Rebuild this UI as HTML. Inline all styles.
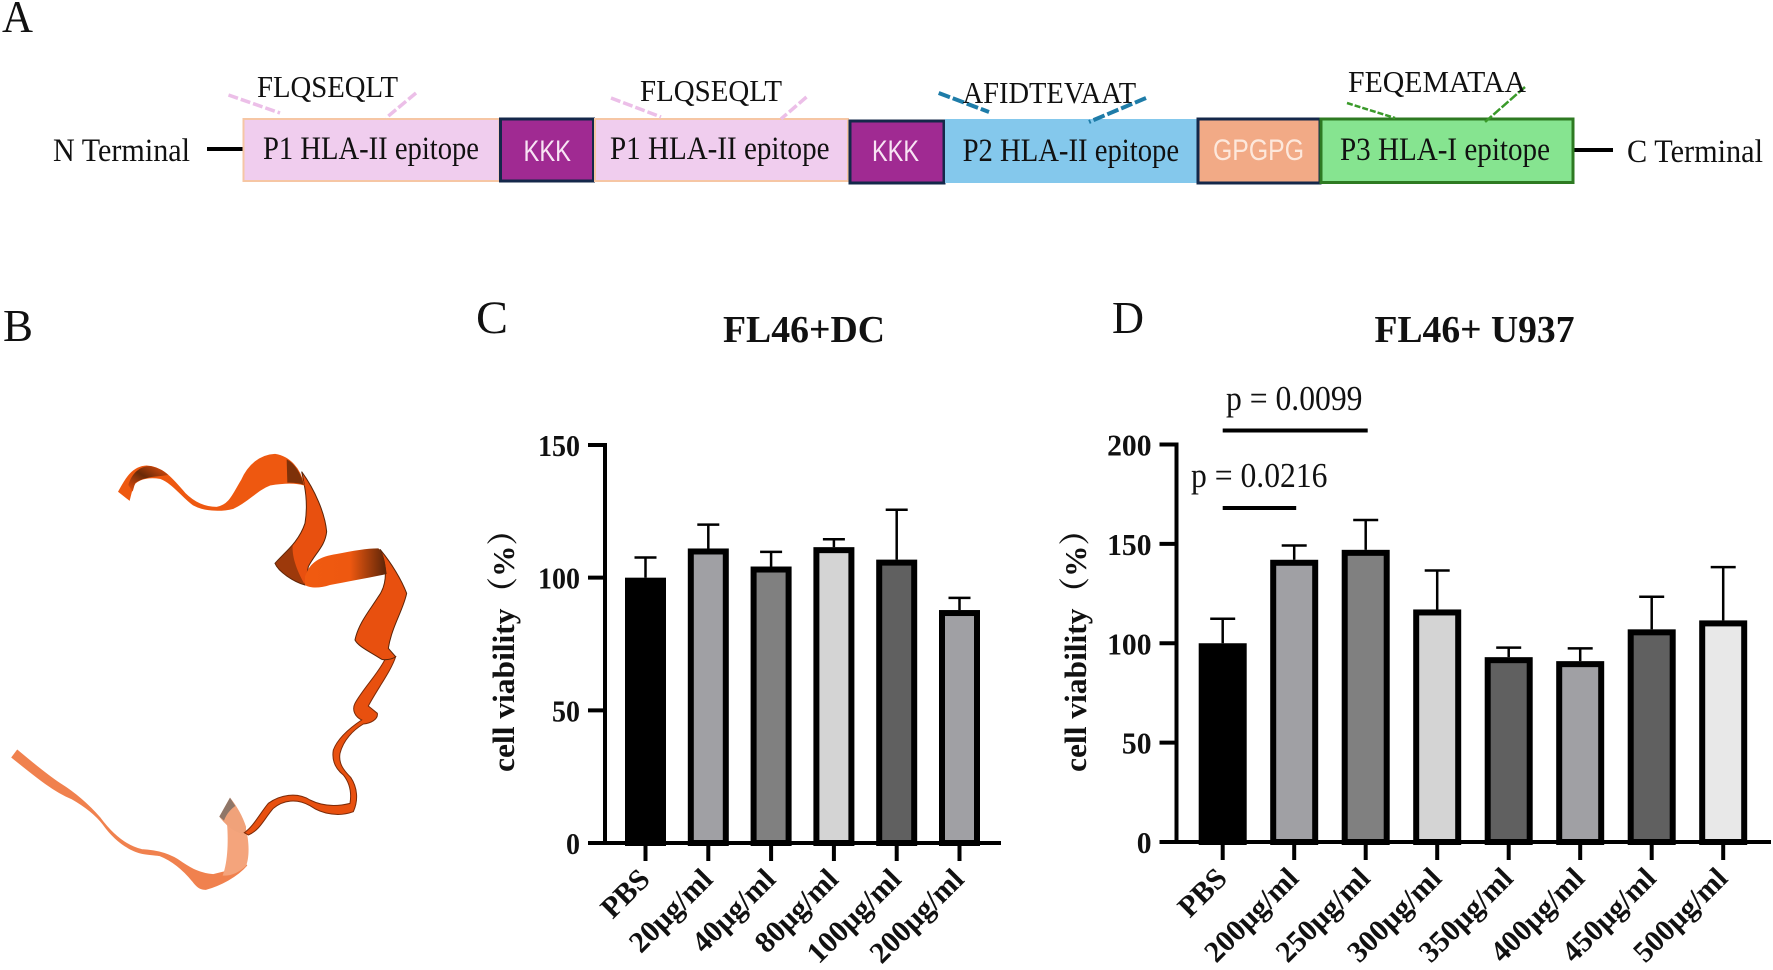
<!DOCTYPE html>
<html lang="en">
<head>
<meta charset="utf-8">
<title>FL46 epitope construct, structure and cell viability</title>
<style>
html,body{margin:0;padding:0;background:#fff;}
svg{display:block;}
text{font-family:"Liberation Serif","Noto Serif CJK SC",serif;fill:#111;}
.sans{font-family:"Liberation Sans","DejaVu Sans",sans-serif;}
</style>
</head>
<body>
<svg id="fig" xmlns="http://www.w3.org/2000/svg" width="1773" height="970" viewBox="0 0 1773 970">
  <rect x="0" y="0" width="1773" height="970" fill="#fff"/>
  <defs>
    <linearGradient id="gFold" x1="0" y1="0" x2="1" y2="0"><stop offset="0" stop-color="#f05a10"/><stop offset=".55" stop-color="#ee5810"/><stop offset="1" stop-color="#5a2408"/></linearGradient>
    <linearGradient id="gStart" x1="0" y1="1" x2="1" y2="0"><stop offset="0" stop-color="#e8500f"/><stop offset=".5" stop-color="#6a2a08"/><stop offset="1" stop-color="#e8500f"/></linearGradient>
  </defs>

  <!-- Panel letters -->
  <text x="2" y="32" font-size="46" textLength="31" lengthAdjust="spacingAndGlyphs">A</text>
  <text x="3" y="341" font-size="46" textLength="30" lengthAdjust="spacingAndGlyphs">B</text>
  <text x="476" y="333" font-size="47" textLength="32" lengthAdjust="spacingAndGlyphs">C</text>
  <text x="1112" y="333" font-size="46" textLength="32" lengthAdjust="spacingAndGlyphs">D</text>

  <!-- Panel A -->
  <g>
    <line x1="207" y1="149" x2="243" y2="149" stroke="#000" stroke-width="4"/>
    <line x1="1573" y1="150" x2="1613" y2="150" stroke="#000" stroke-width="4"/>
    <rect x="243.5" y="119" width="256" height="62" fill="#f0cdee" stroke="#f6c6a4" stroke-width="2"/>
    <rect x="500.5" y="119" width="93" height="62" fill="#a02a92" stroke="#14284a" stroke-width="3"/>
    <rect x="595" y="119" width="253" height="62" fill="#f0cdee" stroke="#f6c6a4" stroke-width="2"/>
    <rect x="850" y="121" width="94" height="62" fill="#a02a92" stroke="#14284a" stroke-width="3"/>
    <rect x="945" y="119" width="252" height="64" fill="#84c8ec"/>
    <rect x="1198" y="119" width="122" height="64" fill="#f2aa86" stroke="#14284a" stroke-width="3"/>
    <rect x="1321" y="119" width="252" height="63.5" fill="#86e490" stroke="#2e7a22" stroke-width="3"/>

    <g fill="none" stroke-linecap="butt">
      <line x1="228.5" y1="95" x2="280" y2="113" stroke="#ecbfe8" stroke-width="3.5" stroke-dasharray="10 3"/>
      <line x1="416" y1="93" x2="386" y2="118" stroke="#ecbfe8" stroke-width="3.5" stroke-dasharray="10 3"/>
      <line x1="611" y1="98" x2="661" y2="117" stroke="#ecbfe8" stroke-width="3.5" stroke-dasharray="10 3"/>
      <line x1="806.5" y1="97" x2="781" y2="119" stroke="#ecbfe8" stroke-width="3.5" stroke-dasharray="10 3"/>
      <line x1="938.7" y1="93" x2="989" y2="112" stroke="#1e7ca8" stroke-width="4" stroke-dasharray="12 3"/>
      <line x1="1146" y1="98" x2="1089" y2="122" stroke="#1e7ca8" stroke-width="4" stroke-dasharray="12 3"/>
      <line x1="1347" y1="103" x2="1395" y2="118" stroke="#3a9a2a" stroke-width="2.5" stroke-dasharray="6 2"/>
      <line x1="1525" y1="87" x2="1485" y2="122" stroke="#3a9a2a" stroke-width="2.5" stroke-dasharray="9 2"/>
    </g>

    <text x="53" y="161" font-size="33" textLength="137" lengthAdjust="spacingAndGlyphs">N Terminal</text>
    <text x="1627" y="162" font-size="33" textLength="136" lengthAdjust="spacingAndGlyphs">C Terminal</text>
    <text x="263" y="159" font-size="33" textLength="216" lengthAdjust="spacingAndGlyphs">P1 HLA-II epitope</text>
    <text class="sans" x="523.5" y="161" font-size="30" style="fill:#f8e4f4" textLength="47.5" lengthAdjust="spacingAndGlyphs">KKK</text>
    <text x="610" y="159" font-size="33" textLength="219.5" lengthAdjust="spacingAndGlyphs">P1 HLA-II epitope</text>
    <text class="sans" x="872" y="161" font-size="30" style="fill:#f8e4f4" textLength="47" lengthAdjust="spacingAndGlyphs">KKK</text>
    <text x="962.6" y="161" font-size="33" textLength="216.5" lengthAdjust="spacingAndGlyphs">P2 HLA-II epitope</text>
    <text class="sans" x="1213" y="160" font-size="30" style="fill:#fde8dc" textLength="91" lengthAdjust="spacingAndGlyphs">GPGPG</text>
    <text x="1340" y="160" font-size="33" textLength="210" lengthAdjust="spacingAndGlyphs">P3 HLA-I epitope</text>
    <text x="257" y="97" font-size="31" textLength="141" lengthAdjust="spacingAndGlyphs">FLQSEQLT</text>
    <text x="640" y="101" font-size="31" textLength="142" lengthAdjust="spacingAndGlyphs">FLQSEQLT</text>
    <text x="962.6" y="103" font-size="31" textLength="173.5" lengthAdjust="spacingAndGlyphs">AFIDTEVAAT</text>
    <text x="1348" y="92" font-size="31" textLength="178" lengthAdjust="spacingAndGlyphs">FEQEMATAA</text>
  </g>

  <!-- Panel B -->
  <g transform="translate(0,430) scale(0.33333)">
    <path fill="#f0814e" stroke="#f0814e" stroke-width="5" d="M52,962 C95,998 135,1032 180,1062 C225,1090 265,1125 300,1165 C335,1212 375,1248 425,1260 C470,1262 510,1272 545,1298 C575,1318 600,1332 640,1335 L700,1320 L740,1305 C710,1340 660,1365 618,1377 C600,1378 590,1368 578,1352 C550,1318 515,1290 480,1276 C450,1272 420,1272 395,1258 C355,1238 330,1210 310,1182 C285,1150 250,1125 215,1105 C165,1085 115,1045 37,982 Z"/>
    <path fill="#f4a47c" d="M668,1337 C684,1295 686,1225 680,1170 L733,1180 C748,1225 750,1280 738,1308 C715,1328 695,1338 668,1337 Z"/>
    <path fill="#f0a27a" d="M690,1103 L658,1160 C680,1190 710,1212 738,1212 L738,1190 C728,1160 712,1130 690,1103 Z"/>
    <path fill="#8f7668" d="M690,1103 L658,1160 L672,1172 C680,1150 695,1135 706,1128 Z"/>
    <path fill="#e8500f" stroke="#7a2a08" stroke-width="3" d="M1187,680 C1175,720 1130,780 1105,828 L1132,850 C1135,868 1112,880 1090,882 C1060,900 1030,930 1020,970 C1015,1000 1030,1020 1052,1042 C1072,1072 1076,1110 1060,1145 C1020,1160 970,1155 930,1127 C890,1105 850,1110 820,1135 C790,1170 780,1200 745,1215 L733,1208 C760,1190 780,1150 805,1120 C840,1095 890,1085 930,1110 C970,1130 1010,1130 1050,1120 C1055,1090 1050,1060 1030,1035 C1005,1015 995,990 1000,960 C1015,920 1055,890 1085,870 C1065,860 1055,840 1065,820 C1090,775 1135,730 1155,688 Z"/>
    <path fill="#e8500f" stroke="#5a2408" stroke-width="3" d="M1140,358 C1175,400 1205,450 1220,490 C1210,540 1175,590 1165,655 L1187,680 C1175,690 1150,690 1145,688 C1110,665 1075,650 1065,630 C1075,580 1110,540 1135,500 C1165,460 1160,400 1140,358 Z"/>
    <path fill="#e8500f" stroke="#5a2408" stroke-width="3" d="M905,125 C945,180 975,250 980,305 C975,350 945,370 925,410 L915,465 C880,455 835,425 825,400 C850,370 895,340 915,280 C925,220 915,170 905,125 Z"/>
    <path fill="url(#gFold)" d="M915,440 C930,395 960,380 1010,372 C1060,362 1100,355 1135,355 C1150,365 1155,395 1160,432 C1100,445 1040,455 990,465 C960,475 930,475 915,465 Z"/>
    <path fill="#ee5810" stroke="#ee5810" stroke-width="3" d="M356,185 C375,150 395,110 440,108 C490,110 520,150 555,190 C580,215 610,232 650,232 C690,225 700,190 725,150 C745,105 780,75 825,73 C870,80 900,115 912,165 C880,155 840,160 810,165 C770,180 745,215 700,235 C660,245 610,242 580,225 C545,200 520,160 480,145 C450,140 420,145 405,160 C395,175 392,195 388,210 Z"/>
    <path fill="#6a2a08" opacity=".85" d="M860,88 C885,100 905,135 912,165 C900,160 880,158 862,158 Z"/>
    <path fill="url(#gStart)" d="M385,165 C395,130 420,108 450,108 C470,112 490,120 505,135 C470,140 430,140 405,160 L398,185 Z"/>
    <path fill="#6a2a08" opacity=".6" d="M825,400 C840,380 860,362 878,345 C875,385 895,430 915,465 C880,455 835,425 825,400 Z"/>
  </g>

  <g id="chartC"></g>
  <g id="chartD"></g>
</svg>

<script>
// Panel C data
var categoriesC = ['PBS', '20μg/ml', '40μg/ml', '80μg/ml', '100μg/ml', '200μg/ml'];
var meansC = [100, 111, 104.2, 111.5, 106.8, 87.8];
var errorsC = [7.6, 9, 5.5, 3, 18.8, 4.6];
var ticksC = [0, 50, 100, 150];
var fillsC = ['#000000', '#a0a0a4', '#808080', '#d4d4d4', '#606060', '#a0a0a4'];

// Panel D data
var categoriesD = ['PBS', '200μg/ml', '250μg/ml', '300μg/ml', '350μg/ml', '400μg/ml', '450μg/ml', '500μg/ml'];
var meansD = [100, 142, 147, 117, 93, 91, 107, 111.5];
var errorsD = [12.3, 7.2, 15, 19.6, 4.8, 6.4, 16.4, 26.8];
var ticksD = [0, 50, 100, 150, 200];
var fillsD = ['#000000', '#a0a0a4', '#808080', '#d4d4d4', '#606060', '#a0a0a4', '#606060', '#e8e8e8'];

// Significance brackets: first group index, second group index, label
var sigFrom = [0, 0];
var sigTo = [2, 1];
var sigLabels = ['p = 0.0099', 'p = 0.0216'];

var NS = 'http://www.w3.org/2000/svg';

function make(parent, tag, attrs, txt) {
  var el = document.createElementNS(NS, tag);
  for (var k in attrs) { el.setAttribute(k, attrs[k]); }
  if (txt !== undefined) { el.textContent = txt; }
  parent.appendChild(el);
  return el;
}

function drawChart(group, cfg) {
  var y = function (v) { return cfg.y0 + (cfg.yTop - cfg.y0) * v / cfg.yMax; };
  var x = function (i) { return cfg.x0 + cfg.step * i; };
  var el;

  // bars and error bars
  cfg.categories.forEach(function (cat, i) {
    var top = y(cfg.means[i] + cfg.errors[i]);
    var cx = x(i);
    el = make(group, 'line', { x1: cx, x2: cx, y1: y(cfg.means[i]), y2: top, stroke: '#000', 'stroke-width': 2.5 });
    
    
    el = make(group, 'line', { x1: cx - cfg.cap / 2, x2: cx + cfg.cap / 2, y1: top, y2: top, stroke: '#000', 'stroke-width': 2.5 });
    
    
    var sw = 6;
    el = make(group, 'rect', {
      x: cx - cfg.barW / 2 + sw / 2,
      y: y(cfg.means[i]) + sw / 2,
      width: cfg.barW - sw,
      height: cfg.y0 - y(cfg.means[i]) - sw / 2,
      fill: cfg.fills[i], stroke: '#000', 'stroke-width': sw
    });
    
    
    // x tick
    el = make(group, 'line', { x1: cx, x2: cx, y1: cfg.y0, y2: cfg.y0 + 18, stroke: '#000', 'stroke-width': 4 });
    
    
    // x label
    var lx = cx + 6, ly = cfg.y0 + 38;
    el = make(group, 'text', {
      x: lx, y: ly, 'font-size': 30, 'font-weight': 'bold', 'text-anchor': 'end',
      transform: 'rotate(-45 ' + lx + ' ' + ly + ')'
    }, cat);
    
    
  });

  // y axis
  el = make(group, 'line', { x1: cfg.axisX, x2: cfg.axisX, y1: y(cfg.yMax) - 2, y2: cfg.y0 + 2, stroke: '#000', 'stroke-width': 4 });
  
  
  // x axis
  el = make(group, 'line', { x1: cfg.axisX - 17, x2: cfg.axisEnd, y1: cfg.y0, y2: cfg.y0, stroke: '#000', 'stroke-width': 4 });
  
  

  cfg.ticks.forEach(function (t) {
    el = make(group, 'line', { x1: cfg.axisX - 17, x2: cfg.axisX, y1: y(t), y2: y(t), stroke: '#000', 'stroke-width': 4 });
    
    
    var label = String(t);
    el = make(group, 'text', {
      x: cfg.axisX - 25, y: y(t) + 11, 'font-size': 31, 'font-weight': 'bold', 'text-anchor': 'end',
      textLength: cfg.digitW * label.length, lengthAdjust: 'spacingAndGlyphs'
    }, label);
    
    
  });

  // y title
  el = make(group, 'text', {
    x: 0, y: 0, 'font-size': 31, 'font-weight': 'bold',
    textLength: 258, lengthAdjust: 'spacingAndGlyphs',
    transform: 'translate(' + cfg.titleX + ',772) rotate(-90)'
  }, 'cell viability（%）');
  
  

  // chart title
  el = make(group, 'text', { x: cfg.chartTitleX, y: 342, 'font-size': 38, 'font-weight': 'bold', textLength: cfg.chartTitleW, lengthAdjust: 'spacingAndGlyphs' }, cfg.title);
  
  
}

drawChart(document.getElementById('chartC'), {
  categories: categoriesC, means: meansC, errors: errorsC, ticks: ticksC, fills: fillsC,
  yMax: 150, y0: 843, yTop: 445, x0: 645.5, step: 62.8, barW: 41, cap: 22, digitW: 14,
  axisX: 605, axisEnd: 1001, titleX: 514, title: 'FL46+DC', chartTitleX: 723, chartTitleW: 162
});

drawChart(document.getElementById('chartD'), {
  categories: categoriesD, means: meansD, errors: errorsD, ticks: ticksD, fills: fillsD,
  yMax: 200, y0: 842, yTop: 444.5, x0: 1222.7, step: 71.5, barW: 48, cap: 25, digitW: 14.8,
  axisX: 1176.5, axisEnd: 1771, titleX: 1086, title: 'FL46+ U937', chartTitleX: 1374.5, chartTitleW: 200
});

// Significance annotations on panel D
var sigLineY = [430.5, 508];
var sigTextX = [1226, 1191];
var sigTextY = [410, 487];
sigLabels.forEach(function (label, i) {
  var g = document.getElementById('chartD');
  var fromX = 1222.7 + 71.5 * sigFrom[i];
  var toX = 1222.7 + 71.5 * sigTo[i] + 2;
  var el = make(g, 'line', { x1: fromX, x2: toX, y1: sigLineY[i], y2: sigLineY[i], stroke: '#000', 'stroke-width': 4 });
  
  
  el = make(g, 'text', { x: sigTextX[i], y: sigTextY[i], 'font-size': 35, textLength: 136.5, lengthAdjust: 'spacingAndGlyphs' }, label);
  
  
});
</script>
</body>
</html>
